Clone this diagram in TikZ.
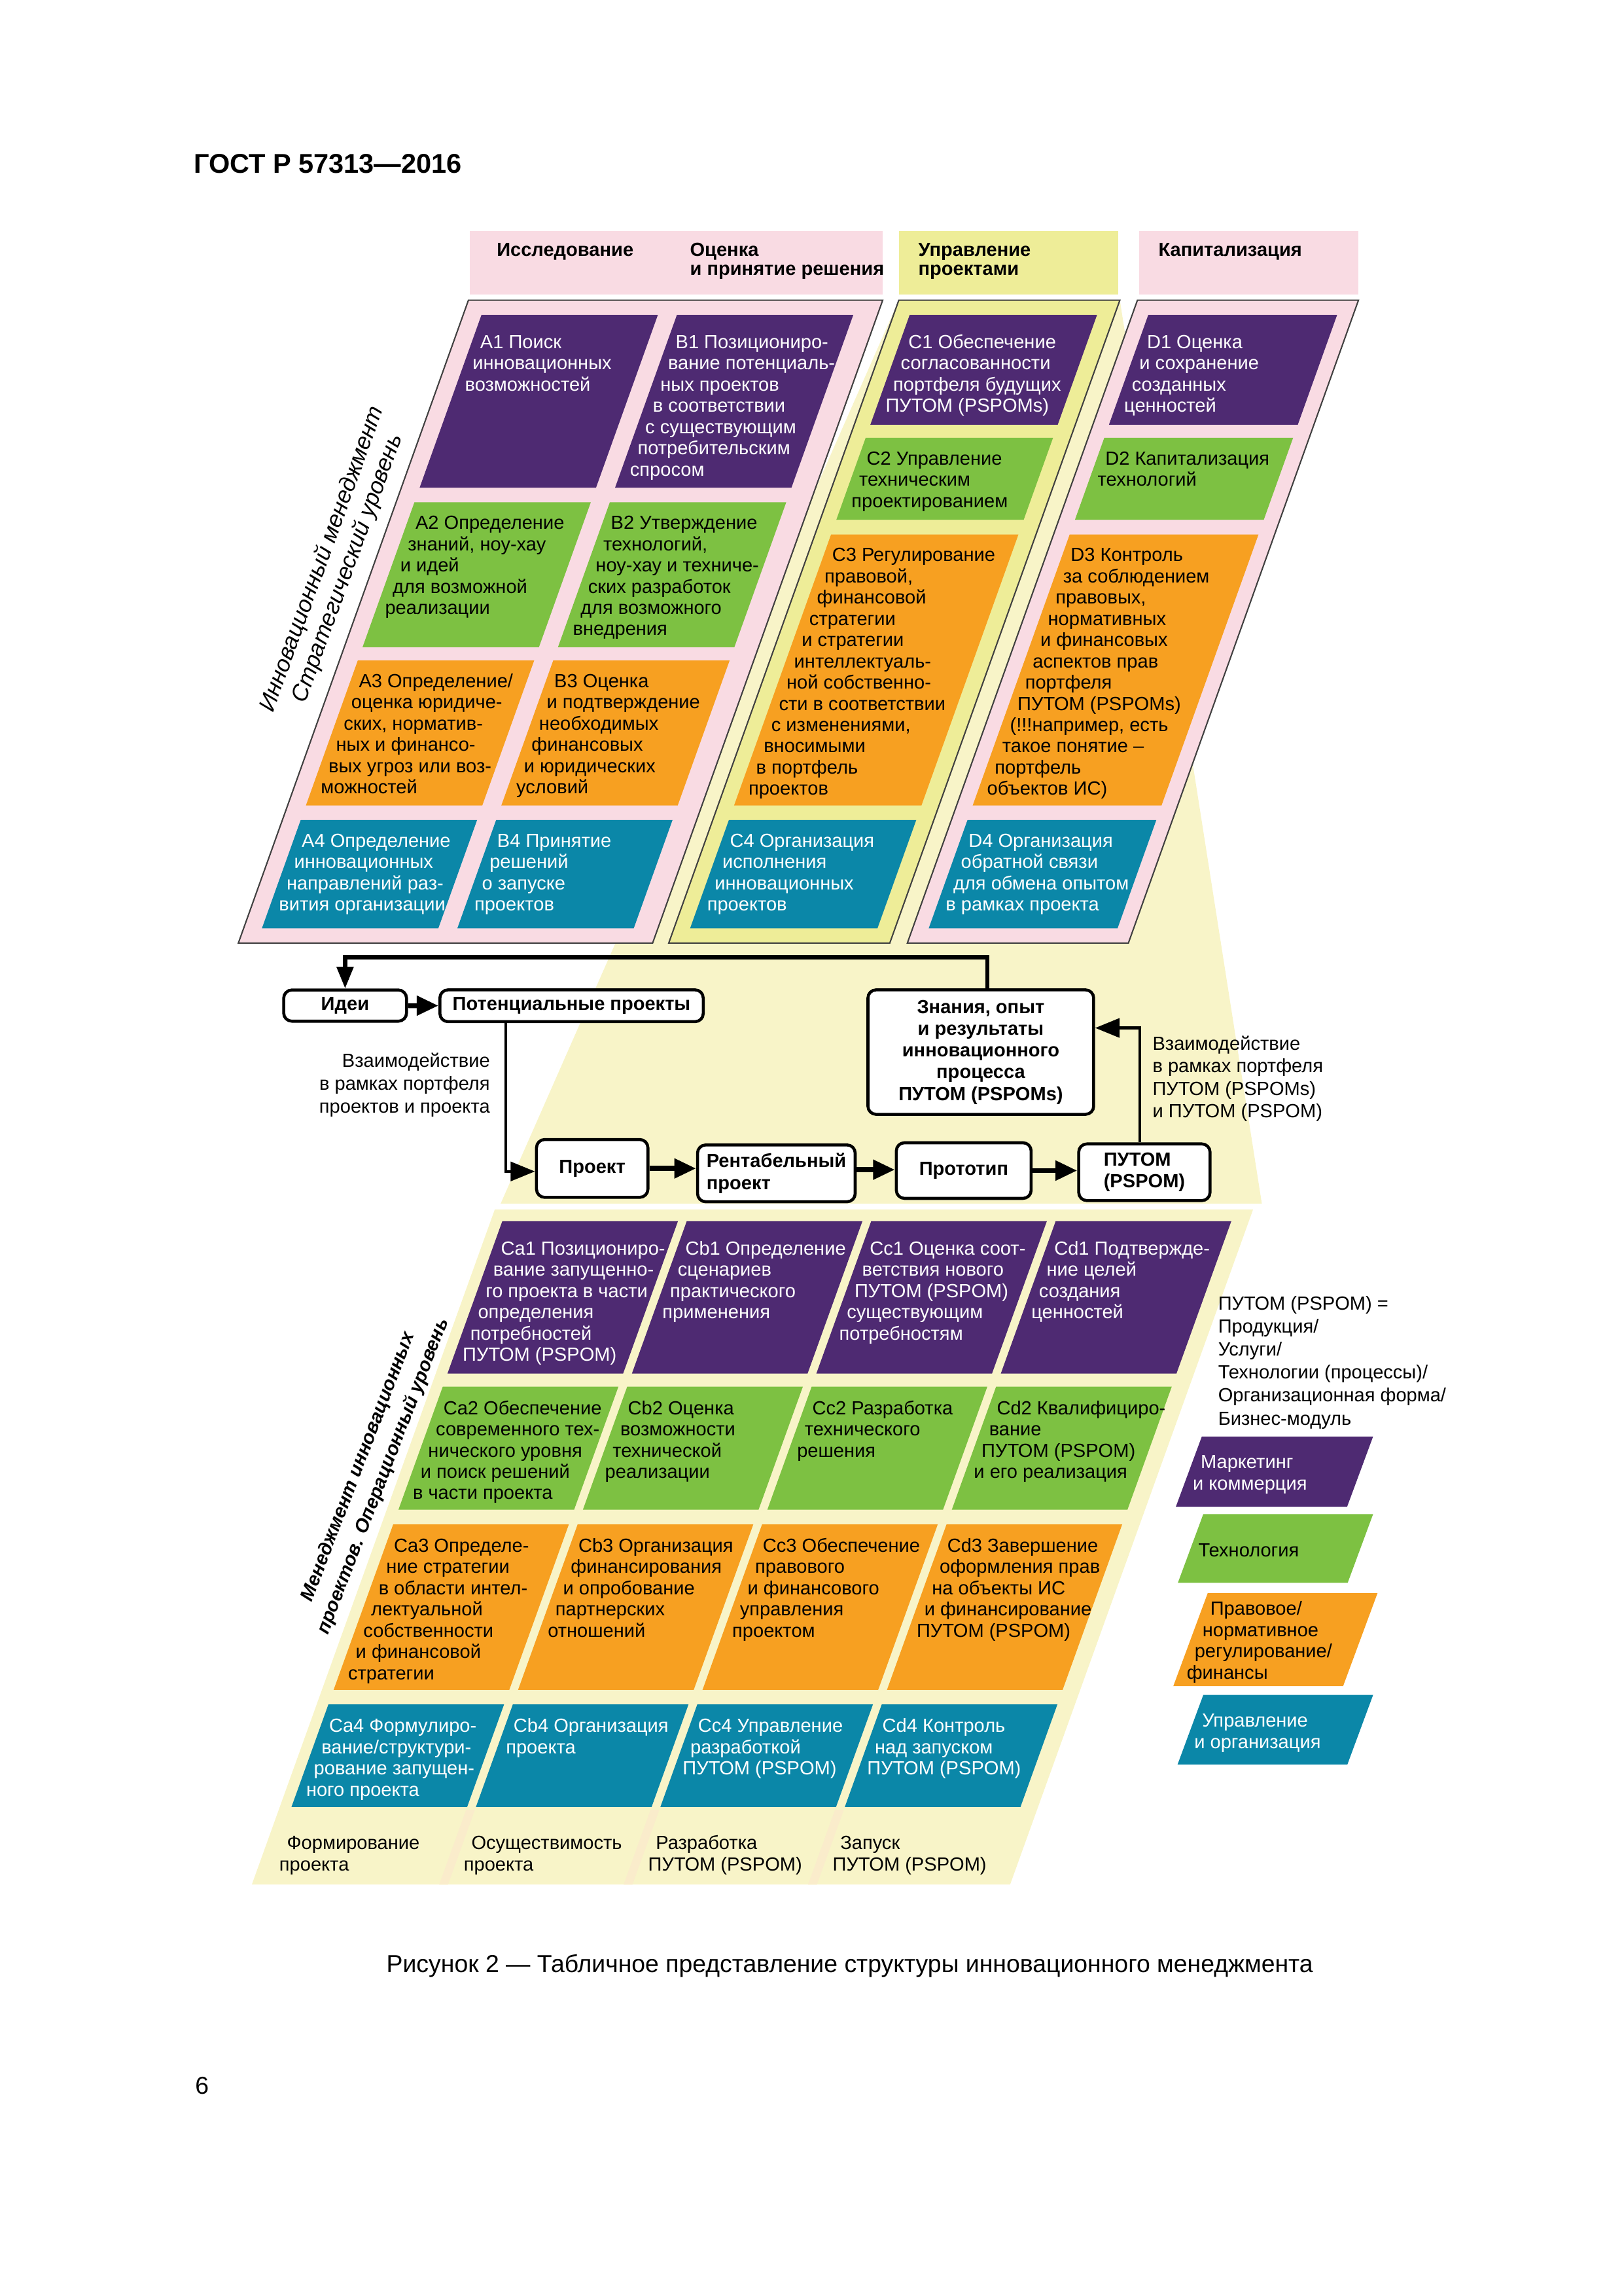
\documentclass[tikz,border=0pt]{standalone}
\usepackage{fontspec}
\setmainfont{Liberation Sans}
\usetikzlibrary{arrows.meta}

\newlength{\du}
\setlength{\du}{0.018936cm}

\definecolor{cpurple}{RGB}{78,42,114}
\definecolor{cgreen}{RGB}{125,193,66}
\definecolor{corange}{RGB}{247,160,33}
\definecolor{cteal}{RGB}{11,135,168}
\definecolor{cpink}{RGB}{249,219,227}
\definecolor{cyellow}{RGB}{238,237,152}
\definecolor{ccream}{RGB}{248,244,200}
\definecolor{cstripe}{RGB}{250,236,203}

% lines of text, one node per line: name, style, x, first baseline, pitch, lines
\newcommand{\txtrows}[6]{%
  \foreach \rowtxt [count=\k from 0] in {#6} {
    \node[#2] (#1-\k) at ({#3}, {#4+#5*\k}) {\rowtxt};
  }}
% slanted cell: name, fill, text colour, u1, u2, top, bottom, first baseline, lines
\newcommand{\slcell}[9]{%
  \fill[#2] (#4,#6) -- (#5,#6) -- (#5,#7) -- (#4,#7) -- cycle;
  \txtrows{#1}{celltext, text=#3}{#4+7}{#8}{14.5}{#9}}

\begin{document}
\begin{tikzpicture}[x=\du, y=-\du,
  celltext/.style={anchor=base west, inner sep=0pt, font=\fontsize{7}{8}\selectfont},
  headtext/.style={anchor=base west, inner sep=0pt, font=\bfseries\fontsize{7}{8}\selectfont},
  note/.style={inner sep=0pt, font=\fontsize{7}{8}\selectfont},
  panel/.style={draw=black!75, line width=0.5pt},
  flowbox/.style={draw, line width=1.1pt, rounded corners=3pt, fill=white, align=center, inner sep=1pt, font=\bfseries\fontsize{7}{8}\selectfont},
  flowarrow/.style={line width=1.8pt, -{Triangle[length=8pt,width=7pt]}},
  link/.style={line width=1.1pt, -{Triangle[length=9pt,width=7pt]}},
  feedback/.style={line width=1.5pt, -{Triangle[length=8pt,width=6pt]}},
]
\useasboundingbox (0,0) rectangle (1109,1568);

\node[anchor=base west, inner sep=0pt, font=\bfseries\fontsize{10}{12}\selectfont] (title) at (132,118) {ГОСТ Р 57313—2016};

% header
\fill[cpink] (321,158) rectangle (603,201);
\fill[cyellow] (614,158) rectangle (764,201);
\fill[cpink] (778,158) rectangle (928,201);
\txtrows{hRes}{headtext}{339}{175}{13}{{Исследование}}
\txtrows{hEval}{headtext}{471}{175}{13}{{Оценка},{и принятие решения}}
\txtrows{hProj}{headtext}{627}{175}{13}{{Управление},{проектами}}
\txtrows{hCap}{headtext}{791}{175}{13}{{Капитализация}}

% cream band from the C column down to the operational level
\fill[ccream] (614,205) -- (765,205) -- (862,822) -- (342,822) -- cycle;

% strategic level
\begin{scope}[shift={(0,205)}, xslant=0.358]
  \foreach \ua/\ub/\pc in {320/603/cpink, 614/765/cyellow, 777/928/cpink} {
    \filldraw[panel, fill=\pc] (\ua,0) -- (\ub,0) -- (\ub,439) -- (\ua,439) -- cycle;
  }
  \slcell{A1}{cpurple}{white}{332.5}{453}{10}{128}{33}{{A1 Поиск},{инновационных},{возможностей}}
  \slcell{B1}{cpurple}{white}{466}{586.5}{10}{128}{33}{{B1 Позициониро-},{вание потенциаль-},{ных проектов},{в соответствии},{с существующим},{потребительским},{спросом}}
  \slcell{A2}{cgreen}{black}{332.5}{453}{138}{237}{156.5}{{A2 Определение},{знаний, ноу-хау},{и идей},{для возможной},{реализации}}
  \slcell{B2}{cgreen}{black}{466}{586.5}{138}{237}{156.5}{{B2 Утверждение},{технологий,},{ноу-хау и техниче-},{ских разработок},{для возможного},{внедрения}}
  \slcell{A3}{corange}{black}{332.5}{453}{246}{345}{264.5}{{A3 Определение/},{оценка юридиче-},{ских, норматив-},{ных и финансо-},{вых угроз или воз-},{можностей}}
  \slcell{B3}{corange}{black}{466}{586.5}{246}{345}{264.5}{{B3 Оценка},{и подтверждение},{необходимых},{финансовых},{и юридических},{условий}}
  \slcell{A4}{cteal}{white}{332.5}{453}{355}{429}{373.5}{{A4 Определение},{инновационных},{направлений раз-},{вития организации}}
  \slcell{B4}{cteal}{white}{466}{586.5}{355}{429}{373.5}{{B4 Принятие},{решений},{о запуске},{проектов}}
  \slcell{C1}{cpurple}{white}{625}{753}{10}{85}{33}{{C1 Обеспечение},{согласованности},{портфеля будущих},{ПУТОМ (PSPOMs)}}
  \slcell{C2}{cgreen}{black}{625}{753}{94}{150}{112.5}{{C2 Управление},{техническим},{проектированием}}
  \slcell{C3}{corange}{black}{625}{753}{160}{345}{178.5}{{C3 Регулирование},{правовой,},{финансовой},{стратегии},{и стратегии},{интеллектуаль-},{ной собственно-},{сти в соответствии},{с изменениями,},{вносимыми},{в портфель},{проектов}}
  \slcell{C4}{cteal}{white}{625}{753}{355}{429}{373.5}{{C4 Организация},{исполнения},{инновационных},{проектов}}
  \slcell{D1}{cpurple}{white}{788}{917}{10}{85}{33}{{D1 Оценка},{и сохранение},{созданных},{ценностей}}
  \slcell{D2}{cgreen}{black}{788}{917}{94}{150}{112.5}{{D2 Капитализация},{технологий}}
  \slcell{D3}{corange}{black}{788}{917}{160}{345}{178.5}{{D3 Контроль},{за соблюдением},{правовых,},{нормативных},{и финансовых},{аспектов прав},{портфеля},{ПУТОМ (PSPOMs)},{(!!!например, есть},{такое понятие –},{портфель},{объектов ИС)}}
  \slcell{D4}{cteal}{white}{788}{917}{355}{429}{373.5}{{D4 Организация},{обратной связи},{для обмена опытом},{в рамках проекта}}
\end{scope}

\node[rotate=70, align=center, inner sep=0pt, font=\itshape\fontsize{8.5}{10}\selectfont] (stratlbl) at (229,385) {Инновационный менеджмент\\Стратегический уровень};

% project flow
\node[flowbox, minimum width=83.9*\du, minimum height=21.3*\du] (idea) at (235.75,686.75) {Идеи};
\node[flowbox, minimum width=179.9*\du, minimum height=21.7*\du] (pot) at (390.45,686.85) {Потенциальные проекты};
\node[flowbox, minimum width=154.2*\du, minimum height=85*\du] (know) at (670,718.5) {Знания, опыт\\и результаты\\инновационного\\процесса\\ПУТОМ (PSPOMs)};
\node[flowbox, minimum width=76.1*\du, minimum height=39.5*\du] (proj) at (404.55,797.95) {Проект};
\node[flowbox, minimum width=107.7*\du, minimum height=38.8*\du, align=left] (rent) at (530.35,801.3) {Рентабельный\\проект};
\node[flowbox, minimum width=92.1*\du, minimum height=38*\du] (proto) at (658.35,799.4) {Прототип};
\node[flowbox, minimum width=89.7*\du, minimum height=38.7*\du, align=left] (putom) at (781.75,800.55) {ПУТОМ\\(PSPOM)};

\coordinate (fbtop) at (674.5,653.7);
\coordinate (turn) at (345.6,800);
\coordinate (ret) at (778.6,702);

\draw[feedback] (know.north -| fbtop) -- (fbtop) -| (idea.north);
\draw[flowarrow] (idea) -- (pot);
\draw[link] (pot.south -| turn) -- (turn) -- (turn -| proj.west);
\draw[flowarrow] (proj.east) -- (proj.east -| rent.west);
\draw[flowarrow] ([yshift=2.5\du]rent.east) -- ([yshift=2.5\du]rent.east -| proto.west);
\draw[flowarrow] (proto.east) -- (proto.east -| putom.west);
\draw[link] (putom.north -| ret) -- (ret) -- (ret -| know.east);

\txtrows{nLeft}{note, anchor=base east}{335}{729}{15.6}{{Взаимодействие},{в рамках портфеля},{проектов и проекта}}
\txtrows{nRight}{note, anchor=base west}{787}{717}{15.4}{{Взаимодействие},{в рамках портфеля},{ПУТОМ (PSPOMs)},{и ПУТОМ (PSPOM)}}

% operational level
\begin{scope}[shift={(0,826)}, xslant=0.36]
  \fill[ccream] (338,0) -- (856,0) -- (856,461) -- (338,461) -- cycle;
  \foreach \ua in {466,592,718} {
    \fill[cstripe] (\ua,410) -- (\ua+6,410) -- (\ua+6,461) -- (\ua,461) -- cycle;
  }
  \slcell{Ca1}{cpurple}{white}{346}{466}{8}{112}{31}{{Ca1 Позициониро-},{вание запущенно-},{го проекта в части},{определения},{потребностей},{ПУТОМ (PSPOM)}}
  \slcell{Cb1}{cpurple}{white}{472}{592}{8}{112}{31}{{Cb1 Определение},{сценариев},{практического},{применения}}
  \slcell{Cc1}{cpurple}{white}{598}{718}{8}{112}{31}{{Cc1 Оценка соот-},{ветствия нового},{ПУТОМ (PSPOM)},{существующим},{потребностям}}
  \slcell{Cd1}{cpurple}{white}{724}{844}{8}{112}{31}{{Cd1 Подтвержде-},{ние целей},{создания},{ценностей}}
  \slcell{Ca2}{cgreen}{black}{346}{466}{121}{205}{140}{{Ca2 Обеспечение},{современного тех-},{нического уровня},{и поиск решений},{в части проекта}}
  \slcell{Cb2}{cgreen}{black}{472}{592}{121}{205}{140}{{Cb2 Оценка},{возможности},{технической},{реализации}}
  \slcell{Cc2}{cgreen}{black}{598}{718}{121}{205}{140}{{Cc2 Разработка},{технического},{решения}}
  \slcell{Cd2}{cgreen}{black}{724}{844}{121}{205}{140}{{Cd2 Квалифициро-},{вание},{ПУТОМ (PSPOM)},{и его реализация}}
  \slcell{Ca3}{corange}{black}{346}{466}{215}{328}{234}{{Ca3 Определе-},{ние стратегии},{в области интел-},{лектуальной},{собственности},{и финансовой},{стратегии}}
  \slcell{Cb3}{corange}{black}{472}{592}{215}{328}{234}{{Cb3 Организация},{финансирования},{и опробование},{партнерских},{отношений}}
  \slcell{Cc3}{corange}{black}{598}{718}{215}{328}{234}{{Cc3 Обеспечение},{правового},{и финансового},{управления},{проектом}}
  \slcell{Cd3}{corange}{black}{724}{844}{215}{328}{234}{{Cd3 Завершение},{оформления прав},{на объекты ИС},{и финансирование},{ПУТОМ (PSPOM)}}
  \slcell{Ca4}{cteal}{white}{346}{466}{338}{408}{357}{{Ca4 Формулиро-},{вание/структури-},{рование запущен-},{ного проекта}}
  \slcell{Cb4}{cteal}{white}{472}{592}{338}{408}{357}{{Cb4 Организация},{проекта}}
  \slcell{Cc4}{cteal}{white}{598}{718}{338}{408}{357}{{Cc4 Управление},{разработкой},{ПУТОМ (PSPOM)}}
  \slcell{Cd4}{cteal}{white}{724}{844}{338}{408}{357}{{Cd4 Контроль},{над запуском},{ПУТОМ (PSPOM)}}
  \txtrows{stage1}{celltext}{353}{437}{14.5}{{Формирование},{проекта}}
  \txtrows{stage2}{celltext}{479}{437}{14.5}{{Осуществимость},{проекта}}
  \txtrows{stage3}{celltext}{605}{437}{14.5}{{Разработка},{ПУТОМ (PSPOM)}}
  \txtrows{stage4}{celltext}{731}{437}{14.5}{{Запуск},{ПУТОМ (PSPOM)}}
\end{scope}

\node[rotate=69, align=center, inner sep=0pt, font=\bfseries\itshape\fontsize{7}{9.8}\selectfont] (operlbl) at (253.5,1005) {Менеджмент инновационных\\проектов. Операционный уровень};

% legend
\txtrows{def}{celltext}{831.8}{894.6}{15.7}{{ПУТОМ (PSPOM) =},{Продукция/},{Услуги/},{Технологии (процессы)/},{Организационная форма/},{Бизнес-модуль}}
\begin{scope}[shift={(0,981)}, xslant=0.37]
  \slcell{lgMark}{cpurple}{white}{821}{938}{0}{48}{22}{{Маркетинг},{и коммерция}}
\end{scope}
\begin{scope}[shift={(0,1034)}, xslant=0.37]
  \slcell{lgTech}{cgreen}{black}{822}{938}{0}{47}{29}{{Технология}}
\end{scope}
\begin{scope}[shift={(0,1088)}, xslant=0.37]
  \slcell{lgLaw}{corange}{black}{825}{941}{0}{63.5}{15}{{Правовое/},{нормативное},{регулирование/},{финансы}}
\end{scope}
\begin{scope}[shift={(0,1157.5)}, xslant=0.37]
  \slcell{lgMgmt}{cteal}{white}{822}{938}{0}{47.5}{22}{{Управление},{и организация}}
\end{scope}

\node[anchor=base, inner sep=0pt, font=\fontsize{9}{11}\selectfont] (caption) at (580.5,1347) {Рисунок 2 — Табличное представление структуры инновационного менеджмента};
\node[anchor=base west, inner sep=0pt, font=\fontsize{9}{11}\selectfont] (pagenum) at (133,1430) {6};

\end{tikzpicture}
\end{document}
